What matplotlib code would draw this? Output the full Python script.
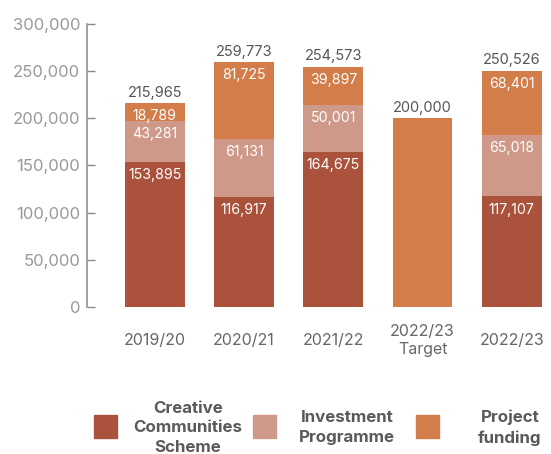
import matplotlib.pyplot as plt
import numpy as np
from matplotlib.patches import Rectangle

plt.rcParams['font.family'] = ['Inter', 'DejaVu Sans']

# funding per year, split by stream
years = ['2019/20', '2020/21', '2021/22', '2022/23\nTarget', '2022/23']
creative = [153895, 116917, 164675, 0, 117107]
investment = [43281, 61131, 50001, 0, 65018]
project = [18789, 81725, 39897, 200000, 68401]
totals = [215965, 259773, 254573, 200000, 250526]

series_names = ['Creative\nCommunities\nScheme', 'Investment\nProgramme', 'Project\nfunding']
colours = ['#AA523C', '#CF998A', '#D27D4A']

fig = plt.figure(figsize=(5.51, 4.54), dpi=100)
ax = fig.add_axes([0.158, 0.324, 0.842, 0.623])

x = np.arange(len(years))
w = 0.67
bottom = np.zeros(len(years))
for vals, col in zip([creative, investment, project], colours):
    vals = np.array(vals, dtype=float)
    ax.bar(x, vals, w, bottom=bottom, color=col, linewidth=0)
    # segment values, just under the top of each segment
    for xi, b, v in zip(x, bottom, vals):
        if v > 0 and v != totals[xi]:
            ax.annotate(f'{int(v):,}', (xi, b + v), xytext=(0, -9.5),
                        textcoords='offset points', ha='center', va='center',
                        color='white', fontsize=10.2)
    bottom += vals

for xi, t in zip(x, totals):
    ax.annotate(f'{t:,}', (xi, t), xytext=(0, 7.5), textcoords='offset points',
                ha='center', va='center', color='#555555', fontsize=10.5)

ax.set_ylim(0, 300000)
ax.set_xlim(-0.76, 4.44)
ax.set_yticks(np.arange(0, 300001, 50000))
ax.set_yticklabels([f'{v:,}' for v in range(0, 300001, 50000)])
ax.tick_params(axis='y', direction='in', length=6, width=1, color='#888888',
               labelcolor='#999999', labelsize=12, pad=5)
ax.set_xticks(x)
ax.set_xticklabels(years, va='center', linespacing=1.25)
ax.tick_params(axis='x', length=0, labelcolor='#666666', labelsize=11.5, pad=24)

for s in ['top', 'right', 'bottom']:
    ax.spines[s].set_visible(False)
ax.spines['left'].set_color('#888888')
ax.spines['left'].set_linewidth(1.1)

# legend along the bottom
sw_x = [94, 253, 416]
txt_x = [188, 347, 510]
for sx, tx, name, col in zip(sw_x, txt_x, series_names, colours):
    fig.patches.append(Rectangle((sx / 551, 1 - 438 / 454), 23 / 551, 23 / 454,
                                 transform=fig.transFigure, color=col))
    ty = 428 if name.count('\n') == 2 else 427.5
    fig.text(tx / 551, 1 - ty / 454, name, ha='center', va='center',
             fontsize=12.2, fontweight='bold', color='#5a5a5a', linespacing=1.4)

fig.savefig('out.png', dpi=100)
